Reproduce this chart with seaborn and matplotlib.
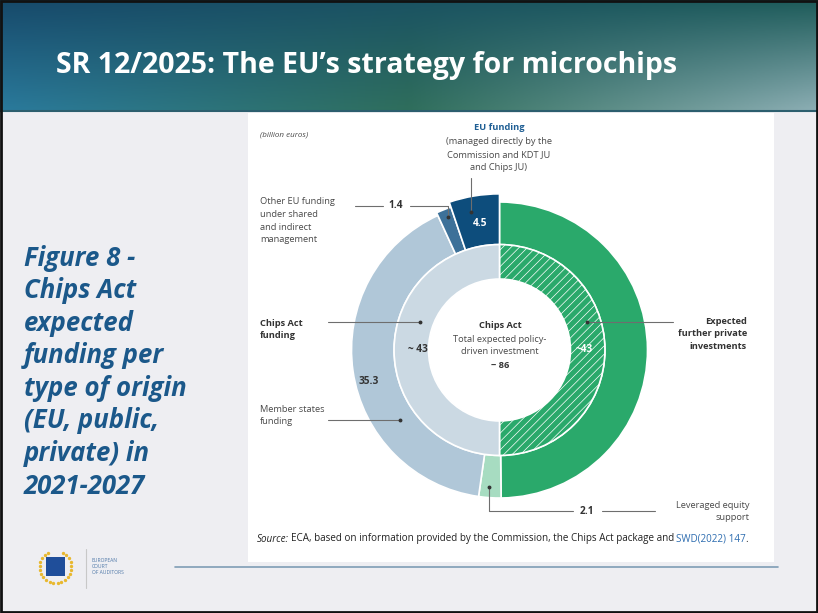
import numpy as np
import matplotlib
matplotlib.use("Agg")
import matplotlib.pyplot as plt
import seaborn as sns
from matplotlib.patches import Rectangle

sns.set_style("white")
plt.rcParams['font.family'] = ['Open Sans', 'DejaVu Sans']
plt.rcParams['hatch.linewidth'] = 0.5

# data (billion euros)
outer_labels = ["Expected further private investments", "Leveraged equity support",
                "Member states funding", "Other EU funding", "EU funding"]
outer_values = [43, 2.1, 35.3, 1.4, 4.5]
inner_labels = ["Expected further private investments", "Chips Act funding"]
inner_values = [43, 43]
total_label = "~ 86"

outer_colors = ["#2AA96B", "#A7DCC1", "#B0C7D8", "#3D7199", "#0D4D7C"]
inner_colors = ["#2AA96B", "#CBD9E3"]

W, H = 818, 613
fig = plt.figure(figsize=(W / 100, H / 100), dpi=100)
fig.patch.set_facecolor("#EEEEF2")

# background layer in pixel coords
bg = fig.add_axes([0, 0, 1, 1], zorder=0)
bg.set_xlim(0, W)
bg.set_ylim(H, 0)
bg.axis("off")

# header gradient
tl, tr = np.array([0x17, 0x4A, 0x6B]), np.array([0x1E, 0x5C, 0x5A])
bl, br = np.array([0x2A, 0x7A, 0x9C]), np.array([0x8C, 0xAE, 0xB4])
mid_b = np.array([0x2F, 0x6E, 0x5C])
u = np.linspace(0, 1, 200)[None, :, None]
v = np.linspace(0, 1, 50)[:, None, None]
bottom = np.where(u < 0.5, bl + (mid_b - bl) * (u / 0.5), mid_b + (br - mid_b) * ((u - 0.5) / 0.5))
top = tl + (tr - tl) * u
grad = (top + (bottom - top) * v) / 255.0
bg.imshow(np.clip(grad, 0, 1), extent=(0, W, 111, 0), aspect="auto", zorder=1)
bg.plot([0, W], [111, 111], color="#2C5E6E", lw=1.5, zorder=2)
bg.text(56, 66, "SR 12/2025: The EU\u2019s strategy for microchips", color="white",
        fontsize=20.5, fontweight="bold", va="center", ha="left", zorder=3)

# white panel
bg.add_patch(Rectangle((248, 113), 526, 449, facecolor="white", edgecolor="none", zorder=1))
# slide border
bg.add_patch(Rectangle((1, 1), W - 2.5, H - 2.5, facecolor="none", edgecolor="#111111", lw=2, zorder=5))

left_lines = ["Figure 8 -", "Chips Act", "expected", "funding per", "type of origin",
              "(EU, public,", "private) in", "2021-2027"]
for i, line in enumerate(left_lines):
    bg.text(24, 258 + i * 32.6, line, color="#1B588A", fontsize=18.5, fontweight="bold",
            fontstyle="italic", va="center", ha="left", zorder=3)

# bottom rule and logo
bg.plot([175, 778], [567, 567], color="#7F9DB5", lw=1.2, zorder=2)
bg.add_patch(Rectangle((46, 557), 19, 19, facecolor="#1F4E9A", edgecolor="none", zorder=3))
ang = np.linspace(np.pi * 0.15, np.pi * 1.85, 22)
bg.scatter(55.5 + 16 * np.sin(ang), 567 - 16 * np.cos(ang), s=2, color="#E8B830", zorder=3)
bg.plot([86, 86], [549, 588], color="#C8C8C8", lw=0.8, zorder=3)
for i, w in enumerate(["EUROPEAN", "COURT", "OF AUDITORS"]):
    bg.text(92, 561 + i * 5.5, w, fontsize=3.6, color="#4F78A8", va="center", zorder=3)

# donut
cx, cy, R = 499.5, 350, 146
half = 185
dax = fig.add_axes([(cx - half) / W, (H - cy - half) / H, 2 * half / W, 2 * half / H], zorder=1)
lim = half / R
dax.set_xlim(-lim, lim)
dax.set_ylim(-lim, lim)
dax.set_aspect("equal")
dax.axis("off")

r_mid, r_hole = 104 / R, 70 / R
outer, _ = dax.pie(outer_values, radius=1, colors=outer_colors, startangle=90, counterclock=False,
                   wedgeprops=dict(width=1 - r_mid, edgecolor="white", linewidth=1.2))
# EU funding segments stand out from the ring
outer[4].set_radius(1.055)
outer[4].set_width(1.055 - r_mid)
outer[3].set_radius(1.02)
outer[3].set_width(1.02 - r_mid)
inner, _ = dax.pie(inner_values, radius=r_mid, colors=inner_colors, startangle=90, counterclock=False,
                   hatch=["////", ""],
                   wedgeprops=dict(width=r_mid - r_hole, edgecolor="white", linewidth=1.2))

# overlay with labels
ov = fig.add_axes([0, 0, 1, 1], zorder=2)
ov.set_xlim(0, W)
ov.set_ylim(H, 0)
ov.axis("off")
ov.patch.set_visible(False)

dark = "#333333"
grey = "#4A4A4A"
line_c = "#6E6E6E"
fs = 6.7

ov.text(260, 135, "(billion euros)", fontsize=5.8, fontstyle="italic", color=grey, va="center")

ov.text(499, 128, "EU funding", fontsize=fs, fontweight="bold", color="#1E5E94", ha="center", va="center")
for i, t in enumerate(["(managed directly by the", "Commission and KDT JU", "and Chips JU)"]):
    ov.text(499, 142 + i * 12.8, t, fontsize=fs, color=grey, ha="center", va="center")

for i, t in enumerate(["Other EU funding", "under shared", "and indirect", "management"]):
    ov.text(260, 202 + i * 12.6, t, fontsize=fs, color=grey, ha="left", va="center")
for i, t in enumerate(["Chips Act", "funding"]):
    ov.text(260, 323 + i * 13, t, fontsize=fs, fontweight="bold", color=dark, ha="left", va="center")
for i, t in enumerate(["Member states", "funding"]):
    ov.text(260, 409 + i * 13, t, fontsize=fs, color=grey, ha="left", va="center")
for i, t in enumerate(["Expected", "further private", "investments"]):
    ov.text(747, 321 + i * 12.6, t, fontsize=fs, fontweight="bold", color=dark, ha="right", va="center")
for i, t in enumerate(["Leveraged equity", "support"]):
    ov.text(750, 505 + i * 13, t, fontsize=fs, color=grey, ha="right", va="center")

# leader lines
def leader(xs, ys):
    ov.plot(xs, ys, color=line_c, lw=0.8)
    ov.plot(xs[-1], ys[-1], "o", color="#333333", ms=1.8)

leader([471, 471], [178, 212])
ov.plot([355, 383], [206, 206], color=line_c, lw=0.8)
leader([410, 448, 448], [206, 206, 217])
ov.text(396, 206, f"{outer_values[3]}", fontsize=7.3, fontweight="bold", color=dark, ha="center", va="center")
leader([328, 420], [322, 322])
leader([328, 400], [420, 420])
leader([673, 587], [322, 322])
ov.plot([602, 655], [511, 511], color=line_c, lw=0.8)
leader([573, 489, 489], [511, 511, 487])
ov.text(587, 511, f"{outer_values[1]}", fontsize=7.3, fontweight="bold", color=dark, ha="center", va="center")

# values on the rings
ov.text(480, 223, f"{outer_values[4]}", fontsize=7.3, fontweight="bold", color="white", ha="center", va="center")
ov.text(369, 381, f"{outer_values[2]}", fontsize=7.3, fontweight="bold", color=dark, ha="center", va="center")
ov.text(418, 350, f"~ {inner_values[1]}", fontsize=7.3, fontweight="bold", color=dark, ha="center", va="center")
ov.text(584, 350, f"~{inner_values[0]}", fontsize=7.3, fontweight="bold", color="white", ha="center", va="center")

# centre text
ov.text(500, 326, "Chips Act", fontsize=fs, fontweight="bold", color=dark, ha="center", va="center")
ov.text(500, 339, "Total expected policy-", fontsize=fs, color=grey, ha="center", va="center")
ov.text(500, 352, "driven investment", fontsize=fs, color=grey, ha="center", va="center")
ov.text(500, 365, total_label, fontsize=fs, fontweight="bold", color=dark, ha="center", va="center")

# source line
sfs = 7.1
t0 = ov.text(257, 539, "Source:", fontsize=sfs, fontstyle="italic", color="#222222", ha="left", va="center")
t1 = ov.annotate("ECA, based on information provided by the Commission, the Chips Act package and",
                 xy=(1, 0), xycoords=t0, xytext=(1.5, 0), textcoords="offset points",
                 fontsize=sfs, color="#222222", ha="left", va="bottom")
t2 = ov.annotate("SWD(2022) 147", xy=(1, 0), xycoords=t1, xytext=(1.5, 0), textcoords="offset points",
                 fontsize=sfs, color="#2E6DB0", ha="left", va="bottom")
ov.annotate(".", xy=(1, 0), xycoords=t2, xytext=(-0.8, 0), textcoords="offset points",
            fontsize=sfs, color="#222222", ha="left", va="bottom")

fig.savefig("out.png", dpi=100, facecolor=fig.get_facecolor())
